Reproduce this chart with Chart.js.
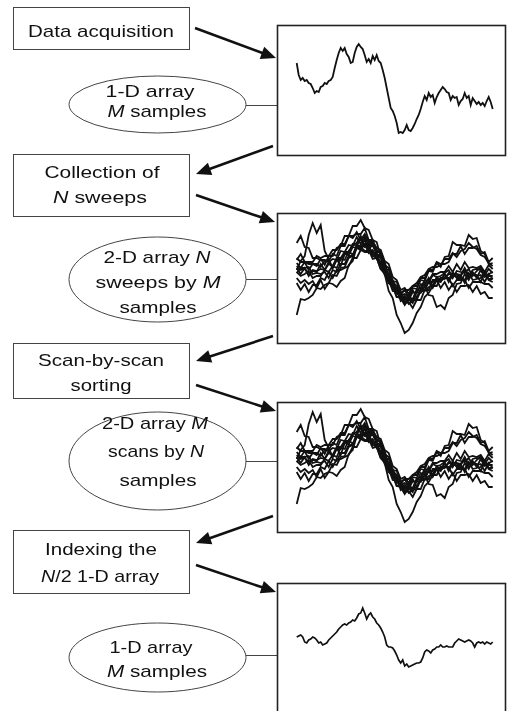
<!DOCTYPE html>
<html>
<head>
<meta charset="utf-8">
<script src="https://cdn.jsdelivr.net/npm/chart.js@4.4.0/dist/chart.umd.min.js"></script>
<style>
  html, body { margin: 0; padding: 0; background: #fff; }
  #page { position: relative; width: 507px; height: 711px; overflow: hidden; }
  canvas.trace { position: absolute; left: 277px; }
  #diagram { position: absolute; left: 0; top: 0; pointer-events: none; }
  #diagram text { font-family: "Liberation Sans", Arial, sans-serif; font-size: 17px; fill: #111; }
  #diagram .it { font-style: italic; }
</style>
</head>
<body>
<div id="page">
  <canvas id="chart-raw" class="trace" width="229" height="130" style="top:25px"></canvas>
  <canvas id="chart-sweeps" class="trace" width="229" height="130" style="top:213px"></canvas>
  <canvas id="chart-scans" class="trace" width="229" height="130" style="top:402px"></canvas>
  <canvas id="chart-median" class="trace" width="229" height="130" style="top:583px"></canvas>

  <svg id="diagram" width="507" height="711">
    <g fill="none" stroke="#444" stroke-width="1">
      <!-- step boxes -->
      <rect x="13.5" y="7.5" width="176" height="42"/>
      <rect x="13.5" y="154.5" width="176" height="62"/>
      <rect x="13.5" y="343.5" width="176" height="55"/>
      <rect x="13.5" y="530.5" width="176" height="63"/>
      <!-- data ellipses -->
      <ellipse cx="157.5" cy="104.5" rx="88.5" ry="28.5"/>
      <ellipse cx="157.5" cy="279.5" rx="88.5" ry="42.5"/>
      <ellipse cx="157.5" cy="461" rx="88.5" ry="49"/>
      <ellipse cx="157.5" cy="657.5" rx="88.5" ry="34.5"/>
      <!-- connectors -->
      <line x1="246" y1="105.5" x2="277" y2="105.5"/>
      <line x1="246" y1="279.5" x2="277" y2="279.5"/>
      <line x1="246" y1="461.5" x2="277" y2="461.5"/>
      <line x1="246" y1="655.5" x2="277" y2="655.5"/>
    </g>
    <g fill="none" stroke="#222" stroke-width="1.6">
      <!-- chart frames -->
      <rect x="277.5" y="25.5" width="228" height="130"/>
      <rect x="277.5" y="213.5" width="228" height="130"/>
      <rect x="277.5" y="402.5" width="228" height="130"/>
      <rect x="277.5" y="583.5" width="228" height="130"/>
    </g>
    <g id="arrows"></g>
    <g text-anchor="middle">
      <text x="101" y="37" textLength="146" lengthAdjust="spacingAndGlyphs">Data acquisition</text>

      <text x="150" y="97" textLength="89" lengthAdjust="spacingAndGlyphs">1-D array</text>
      <text x="157" y="117" textLength="99" lengthAdjust="spacingAndGlyphs"><tspan class="it">M</tspan> samples</text>

      <text x="102" y="178" textLength="115" lengthAdjust="spacingAndGlyphs">Collection of</text>
      <text x="100" y="203" textLength="94" lengthAdjust="spacingAndGlyphs"><tspan class="it">N</tspan> sweeps</text>

      <text x="157" y="263" textLength="107" lengthAdjust="spacingAndGlyphs">2-D array  <tspan class="it">N</tspan></text>
      <text x="158" y="288" textLength="125" lengthAdjust="spacingAndGlyphs">sweeps by  <tspan class="it">M</tspan></text>
      <text x="158" y="313" textLength="77" lengthAdjust="spacingAndGlyphs">samples</text>

      <text x="101" y="366" textLength="126" lengthAdjust="spacingAndGlyphs">Scan-by-scan</text>
      <text x="101" y="391" textLength="61" lengthAdjust="spacingAndGlyphs">sorting</text>

      <text x="155" y="429" textLength="106" lengthAdjust="spacingAndGlyphs">2-D array <tspan class="it">M</tspan></text>
      <text x="156" y="457" textLength="96" lengthAdjust="spacingAndGlyphs">scans by <tspan class="it">N</tspan></text>
      <text x="158" y="486" textLength="77" lengthAdjust="spacingAndGlyphs">samples</text>

      <text x="101" y="555" textLength="112" lengthAdjust="spacingAndGlyphs">Indexing the</text>
      <text x="100" y="582" textLength="118" lengthAdjust="spacingAndGlyphs"><tspan class="it">N</tspan>/2 1-D array</text>

      <text x="151" y="653" textLength="83" lengthAdjust="spacingAndGlyphs">1-D array</text>
      <text x="157" y="677" textLength="100" lengthAdjust="spacingAndGlyphs"><tspan class="it">M</tspan> samples</text>
    </g>
  </svg>
</div>

<script>
// ---- data (amplitude, arbitrary units; one value per sample) ----

// single raw sweep, M samples
var rawSweep = [
  27, 15, 10, 12, 9, 10, 7, 6, 2, -3,
  -1, -2, 3, 4, 7, 6, 9, 10, 13, 22,
  30, 37, 42, 39, 42, 36, 33, 27, 28, 37,
  43, 46, 43, 41, 35, 28, 31, 27, 34, 30,
  35, 29, 27, 20, 12, 2, -8, -18, -21, -26,
  -33, -43, -42, -43, -40, -35, -40, -41, -38, -34,
  -29, -25, -19, -12, -6, -10, -3, -7, -5, -13,
  -7, -3, 0, 3, 1, -2, -3, -10, -6, -8,
  -7, -15, -11, -9, -3, -8, -6, -15, -8, -11,
  -14, -12, -15, -13, -16, -11, -7, -12, -19
];

// N sweeps (coarser sampling)
var sweep01 = [8, 17, 22, 43, 55, 45, 53, 27, 19, 10, 19, 12, 24, 23, 33, 35, 42, 31, 33, 23, 24, 13, 12, -1, -3, -15, -16, -22, -20, -21, -12, -13, -4, -5, 3, 1, 2, 5, 8, 0, 7, 6, 5, 9, 2, 7, 11, 3, 4, 6];
var sweep02 = [-37, -21, -22, -20, -17, -10, -11, -7, -5, 3, 2, 10, 11, 20, 22, 30, 31, 27, 28, 19, 20, 9, 7, -5, -8, -19, -20, -27, -21, -23, -20, -11, -9, -4, -4, -1, -3, 4, -4, 3, 2, 3, -5, 4, 3, 3, -4, 5, -2, -4];
var sweep03 = [0, -5, -2, -6, -3, -10, -2, -11, -5, -6, -9, -3, 0, 13, 17, 31, 29, 39, 27, 35, 23, 20, 5, 2, -10, -11, -23, -20, -26, -23, -22, -13, -13, -9, -8, 1, -3, 0, 4, 3, 1, 2, 8, 0, 3, 2, 3, -4, 4, -1];
var sweep04 = [12, 8, 9, 5, 7, 6, 14, 8, 16, 10, 18, 18, 25, 23, 31, 30, 33, 32, 30, 22, 20, 9, 4, -13, -20, -37, -45, -55, -52, -45, -35, -29, -19, -15, -8, -8, 0, -1, 5, 4, 4, 3, 10, 2, 8, 9, 8, 3, 9, 5];
var sweep05 = [15, 10, 16, 8, 14, 14, 11, 17, 16, 19, 18, 27, 26, 33, 32, 41, 34, 42, 32, 32, 26, 26, 13, 10, -3, -4, -15, -12, -19, -10, -11, -2, -3, 7, 6, 15, 11, 21, 22, 36, 33, 33, 32, 43, 39, 40, 27, 24, 14, 15];
var sweep06 = [6, 2, 4, 7, 0, 2, 2, 8, 6, 12, 10, 19, 18, 27, 23, 33, 32, 34, 25, 28, 19, 16, 3, -2, -13, -14, -21, -18, -22, -14, -15, -6, -7, 0, -8, -2, -10, -4, -12, -6, -14, -8, -8, -7, -14, -8, -16, -14, -20, -20];
var sweep07 = [10, 4, 10, 2, 8, 7, 9, 8, 14, 12, 20, 20, 26, 26, 34, 32, 40, 33, 32, 24, 22, 11, 8, -5, -8, -19, -18, -25, -21, -25, -14, -15, -8, -17, -18, -29, -27, -31, -20, -17, -6, -5, 4, -2, 6, 0, 8, 1, 2, 2];
var sweep08 = [20, 16, 16, 14, 14, 12, 19, 13, 22, 22, 30, 32, 42, 42, 52, 52, 58, 50, 48, 38, 36, 21, 16, 1, -2, -15, -14, -21, -18, -22, -12, -10, -2, -3, 4, 4, 6, 6, 12, 6, 14, 8, 16, 10, 11, 10, 12, 6, 13, 9];
var sweep09 = [35, 42, 31, 30, 20, 20, 18, 18, 17, 24, 22, 32, 32, 42, 42, 44, 44, 50, 38, 38, 28, 24, 9, 4, -8, -10, -16, -12, -12, -8, -5, 1, 3, 9, 11, 11, 13, 19, 19, 25, 21, 27, 29, 35, 31, 29, 23, 21, 15, 12];
var sweep10 = [5, 10, 10, 11, 4, 5, 4, 6, 0, 8, 6, 14, 14, 22, 22, 30, 28, 34, 34, 34, 24, 22, 9, 8, -4, -8, -17, -16, -19, -12, -20, -12, -12, -4, -10, -2, -4, 4, -2, 6, 0, 0, -2, 5, -2, -1, 0, 6, -1, -1];
var sweep11 = [-5, -12, -6, -14, -7, -7, 0, -2, 6, 0, 8, 8, 10, 12, 20, 20, 28, 26, 26, 26, 24, 14, 10, -3, -4, -15, -16, -25, -24, -30, -22, -22, -12, -12, -2, -2, 0, 0, 0, -8, -2, -2, -2, -10, -4, -4, -4, -6, -6, -10];
var sweep12 = [18, 24, 16, 16, 16, 22, 20, 22, 22, 28, 28, 34, 34, 42, 40, 46, 38, 44, 36, 36, 30, 28, 17, 14, 1, -2, -12, -10, -16, -8, -8, 0, 0, 8, 8, 16, 14, 14, 16, 24, 24, 32, 24, 30, 30, 32, 24, 26, 16, 20];

// N/2-indexed result, M samples
var medianSweep = [
  11, 12, 13, 11, 6, 5, 8, 9, 11, 10,
  8, 5, 6, 3, 4, 5, 8, 10, 12, 14,
  16, 19, 21, 23, 24, 23, 25, 26, 28, 27,
  30, 34, 35, 40, 35, 29, 33, 35, 31, 29,
  25, 23, 20, 16, 11, 3, 1, 1, 0, -3,
  -7, -12, -15, -12, -18, -16, -19, -18, -17, -16,
  -15, -15, -14, -10, -4, -2, -3, -5, -2, -1,
  1, 1, 3, 1, 1, 2, 1, 1, 1, 5,
  7, 9, 8, 7, 6, 7, 8, 7, 5, 1,
  5, 6, 5, 6, 4, 6, 5, 4, 6
];

var allSweeps = [sweep01, sweep02, sweep03, sweep04, sweep05, sweep06,
                 sweep07, sweep08, sweep09, sweep10, sweep11, sweep12];

// ---- layout of the plot frames ----
var FRAME_W = 229;      // px
var TRACE_LEFT = 19.7;  // px from frame edge to first sample
var Y_RANGE = 65;

function drawTraces(id, series, pxPerSample, lineWidth) {
  var datasets = series.map(function (vals) {
    return {
      data: vals.map(function (v, i) { return { x: i, y: v }; }),
      borderColor: '#111',
      borderWidth: lineWidth,
      pointRadius: 0,
      tension: 0,
      fill: false
    };
  });
  var xMin = -TRACE_LEFT / pxPerSample;
  new Chart(document.getElementById(id), {
    type: 'line',
    data: { datasets: datasets },
    options: {
      responsive: false,
      animation: false,
      devicePixelRatio: 1,
      layout: { padding: 0 },
      plugins: { legend: { display: false }, tooltip: { enabled: false } },
      scales: {
        x: { type: 'linear', display: false, min: xMin, max: xMin + FRAME_W / pxPerSample },
        y: { display: false, min: -Y_RANGE, max: Y_RANGE }
      }
    }
  });
}

drawTraces('chart-raw', [rawSweep], 2, 1.8);
drawTraces('chart-sweeps', allSweeps, 4, 1.8);
drawTraces('chart-scans', allSweeps, 4, 1.8);
drawTraces('chart-median', [medianSweep], 2, 1.7);

// ---- flow arrows ----
var arrowPaths = [
  [195, 28, 276, 58], [273, 146, 196, 174], [196, 195, 275, 222],
  [273, 336, 196, 361], [196, 385, 276, 411], [273, 516, 196, 543],
  [196, 565, 276, 592]
];
var g = document.getElementById('arrows');
var NS = 'http://www.w3.org/2000/svg';
arrowPaths.forEach(function (a) {
  var dx = a[2] - a[0], dy = a[3] - a[1];
  var len = Math.sqrt(dx * dx + dy * dy);
  var ux = dx / len, uy = dy / len;
  var headL = 15, headW = 6.5;
  var bx = a[2] - ux * headL, by = a[3] - uy * headL;
  var line = document.createElementNS(NS, 'line');
  line.setAttribute('x1', a[0]); line.setAttribute('y1', a[1]);
  line.setAttribute('x2', bx + ux * 2); line.setAttribute('y2', by + uy * 2);
  line.setAttribute('stroke', '#111'); line.setAttribute('stroke-width', '2.6');
  g.appendChild(line);
  var head = document.createElementNS(NS, 'polygon');
  head.setAttribute('points',
    a[2] + ',' + a[3] + ' ' +
    (bx - uy * headW) + ',' + (by + ux * headW) + ' ' +
    (bx + uy * headW) + ',' + (by - ux * headW));
  head.setAttribute('fill', '#111');
  g.appendChild(head);
});
</script>
</body>
</html>
